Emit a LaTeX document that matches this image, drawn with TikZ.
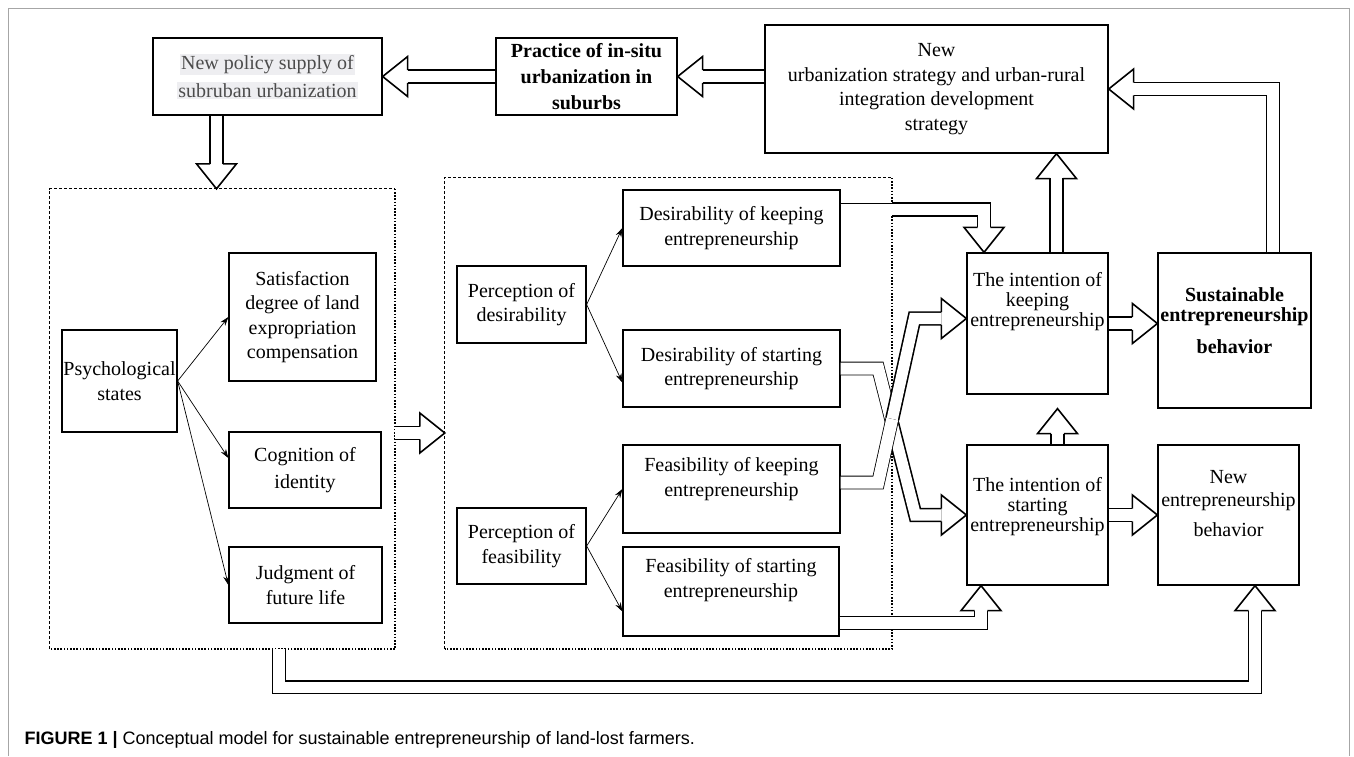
\documentclass[tikz,border=0pt]{standalone}
\usepackage{fontspec}
\setmainfont{Liberation Serif}
\setsansfont{Liberation Sans}
\usetikzlibrary{arrows.meta,positioning,calc}
\definecolor{hlgray}{RGB}{238,238,241}
\setlength{\fboxsep}{1.5pt}
\newcommand{\bhead}[2]{\draw[hd, shift={(#1)}, rotate=#2] (25,6.4) -- (25,20) -- (0,0) -- (25,-20) -- (25,-6.4);}

\begin{document}
\begin{tikzpicture}[x=1pt, y=-1pt, every node/.style={font=\fontsize{20}{24.5}\selectfont},
  box/.style={draw, line width=1.3pt, align=center, inner sep=0pt},
  sz/.style 2 args={minimum width=#1pt, minimum height=#2pt},
  grp/.style={draw=none, inner sep=0pt},
  tl/.style={inner sep=0pt, align=center},
  arr/.style={-{Stealth[length=9pt,width=6pt]}, line width=0.7pt},
  dl/.style={double, double distance=11.2pt, line width=1.6pt},
  dlthin/.style={double, double distance=12pt, line width=0.8pt},
  hd/.style={line width=1.6pt, line join=miter},
  dsh/.style={line width=0.8pt, dash pattern=on 3pt off 2pt},
  dts/.style={line width=1.7pt, dash pattern=on 1.6pt off 1.6pt}]
\useasboundingbox (0,0) rectangle (1354,756);
\draw[gray!70, line width=1pt] (8,756) |- (1349,8) -- (1349,756);

% top row
\node[box, sz={229}{77}, text=black!70] (pol) at (267.5,76.5) {\colorbox{hlgray}{New policy supply of}\\[4pt]\colorbox{hlgray}{subruban urbanization}};
\node[box, sz={181}{77}, font=\bfseries\fontsize{20}{26}\selectfont] (prac) at (586.5,76.5) {Practice of in-situ\\urbanization in\\suburbs};
\node[box, sz={343}{128}] (strat) at (936.5,89) {New\\urbanization strategy and urban-rural\\integration development\\strategy};

% dashed groups
\node[grp, sz={345}{460}] (grpA) at (222.5,419) {};
\node[grp, sz={447}{471}] (grpB) at (668.5,413.5) {};
\draw[dsh] (grpA.south west) |- (grpA.north east);
\draw[dts] (grpA.north east) |- (grpA.south west);
\draw[dsh] (grpB.south west) |- (grpB.north east);
\draw[dts] (grpB.north east) |- (grpB.south west);

% psychological states
\node[box, sz={115}{102}] (psy) at (119.5,381) {Psychological\\states};
\node[box, sz={147}{128}] (sat) at (302.5,317) {Satisfaction\\degree of land\\expropriation\\compensation};
\node[box, sz={152}{76}] (cog) at (305,470) {Cognition of\\[3pt]identity};
\node[box, sz={153}{76}] (jud) at (305.5,585) {Judgment of\\future life};

% perceptions
\node[box, sz={129}{77}] (pdes) at (521.5,304.5) {Perception of\\desirability};
\node[box, sz={129}{76}] (pfea) at (521.5,546) {Perception of\\feasibility};
\node[box, sz={217}{76}] (dkeep) at (731.5,228) {Desirability of keeping\\entrepreneurship};
\node[box, sz={217}{77}] (dstart) at (731.5,368.5) {Desirability of starting\\entrepreneurship};
\node[box, sz={217}{88}, label={[tl, below=13pt]north:Feasibility of keeping\\entrepreneurship}] (fkeep) at (731.5,489) {};
\node[box, sz={216}{89}, label={[tl, below=12pt]north:Feasibility of starting\\entrepreneurship}] (fstart) at (731,591.5) {};

% intentions and behaviours
\node[box, sz={141}{141}, label={[tl, below=20pt, font=\fontsize{20}{20}\selectfont]north:The intention of\\keeping\\entrepreneurship}] (ikeep) at (1037.5,323.5) {};
\node[box, sz={141}{140}, label={[tl, below=33pt, font=\fontsize{20}{20}\selectfont]north:The intention of\\starting\\entrepreneurship}] (istart) at (1037.5,515) {};
\node[box, sz={153}{155}, label={[tl, below=35pt, font=\bfseries\fontsize{20}{20}\selectfont]north:Sustainable\\entrepreneurship\\[12pt]behavior}] (sust) at (1234.5,330.5) {};
\node[box, sz={141}{140}, label={[tl, below=26pt, font=\fontsize{20}{23}\selectfont]north:New\\entrepreneurship\\[7pt]behavior}] (newb) at (1228.5,515) {};

% thin arrows
\draw[arr] (psy.east) -- (sat.west);
\draw[arr] (psy.east) -- ([yshift=12pt]cog.west);
\draw[arr] (psy.east) -- (jud.west);
\draw[arr] (pdes.east) -- (dkeep.west);
\draw[arr] (pdes.east) -- ([yshift=-14pt]dstart.west);
\draw[arr] (pfea.east) -- (fkeep.west);
\draw[arr] (pfea.east) -- ([yshift=-20pt]fstart.west);

% block arrows, top row
\draw[dl] (strat.west |- prac.east) -- ($(prac.east)+(25,0)$);
\bhead{prac.east}{0}
\draw[dl] (prac.west) -- ($(pol.east)+(25,0)$);
\bhead{pol.east}{0}
\coordinate (tA) at ($(grpA.north)+(-6,0)$);
\draw[dl] (pol.south -| tA) -- ($(tA)+(0,-25)$);
\bhead{tA}{90}
\coordinate (sA) at ($(grpA.east)+(0,14)$);
\coordinate (tB) at (sA -| grpB.west);
\draw[dl] (sA) -- ($(tB)+(-25,0)$);
\bhead{tB}{180}

% block arrows, right part
\coordinate (tS) at (ikeep.east -| sust.west);
\draw[dl] (ikeep.east) -- ($(tS)+(-25,0)$);
\bhead{tS}{180}
\coordinate (tN) at (istart.east -| newb.west);
\draw[dl] (istart.east) -- ($(tN)+(-25,0)$);
\bhead{tN}{180}
\coordinate (tK) at ($(ikeep.south)+(20,14)$);
\draw[dl] (tK |- istart.north) -- ($(tK)+(0,25)$);
\bhead{tK}{-90}
\coordinate (tU) at ($(strat.south)+(120,0)$);
\draw[dl] (tU |- ikeep.north) -- ($(tU)+(0,24)$);
\bhead{tU}{-90}
\coordinate (e0) at ($(sust.north)+(38.5,0)$);
\draw[dl] (e0) |- ($(strat.east)+(25,0)$);
\bhead{strat.east}{0}

% from the perceptions to the intentions
\coordinate (d0) at ($(dkeep.east)+(0,-18.5)$);
\coordinate (tD) at ($(ikeep.north)+(-53.5,0)$);
\draw[dlthin] (d0) -- (d0 -| grpB.east);
\draw[dl] (d0 -| grpB.east) -| ($(tD)+(0,-25)$);
\bhead{tD}{90}
\coordinate (a1) at ($(dstart.east)+(37.5,0)$);
\coordinate (a2) at ($(istart.west)+(-51,0)$);
\coordinate (s1) at (intersection of a1--a2 and grpB.north east--grpB.south east);
\draw[dlthin] (dstart.east) -- (a1) -- (s1);
\draw[dl] (s1) -- (a2) -- ($(istart.west)+(-25,0)$);
\bhead{istart.west}{180}
\coordinate (b0) at ($(fkeep.east)+(0,-6.5)$);
\coordinate (tF) at ($(ikeep.west)+(0,-5)$);
\coordinate (b1) at ($(b0)+(37.5,0)$);
\coordinate (b2) at ($(tF)+(-52,0)$);
\coordinate (s2) at (intersection of b1--b2 and grpB.north east--grpB.south east);
\draw[dlthin] (b0) -- (b1) -- (s2);
\draw[dl] (s2) -- (b2) -- ($(tF)+(-25,0)$);
\bhead{tF}{180}
\coordinate (c0) at ($(fstart.east)+(0,31.5)$);
\coordinate (tG) at ($(istart.south)+(-56.5,0)$);
\draw[dlthin] (c0) -- (c0 -| grpB.east);
\draw[dl] (c0 -| grpB.east) -| ($(tG)+(0,25)$);
\bhead{tG}{-90}

% bottom loop
\coordinate (f0) at ($(grpA.south)+(56.5,0)$);
\coordinate (tH) at ($(newb.south)+(26.5,0)$);
\draw[dl] (f0) -- ++(0,38) -| ($(tH)+(0,25)$);
\bhead{tH}{-90}

\node[anchor=west, font=\sffamily\fontsize{18}{22}\selectfont] (cap) at (21,740) {\textbf{FIGURE 1 |} Conceptual model for sustainable entrepreneurship of land-lost farmers.};
\end{tikzpicture}
\end{document}
